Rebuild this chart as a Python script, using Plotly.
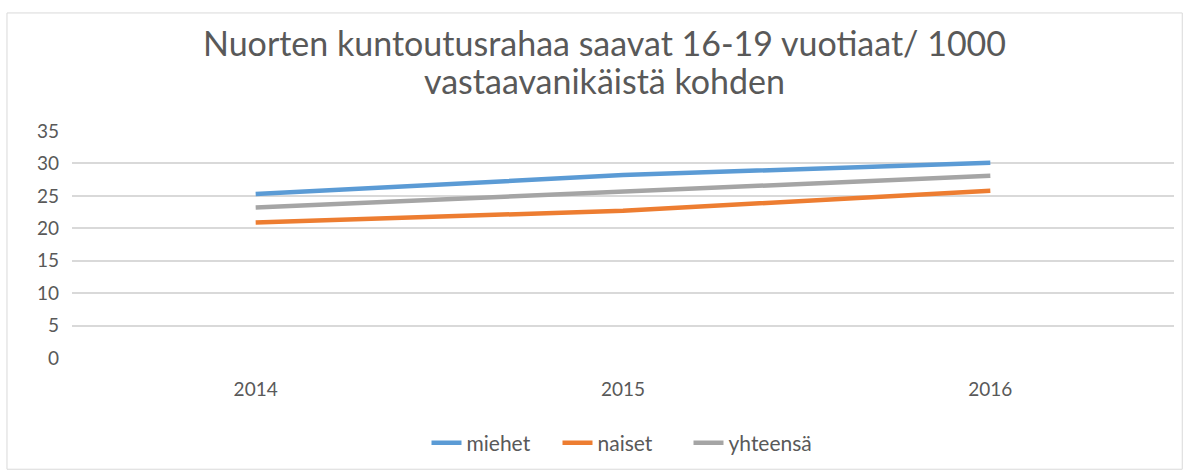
import plotly.graph_objects as go

years = ["2014", "2015", "2016"]
miehet = [25.3, 28.2, 30.1]
naiset = [20.9, 22.7, 25.8]
yhteensa = [23.2, 25.7, 28.1]
title_lines = ["Nuorten kuntoutusrahaa saavat 16-19 vuotiaat/ 1000", "vastaavanikäistä kohden"]

series = [("miehet", miehet, "#5B9BD5"), ("naiset", naiset, "#ED7D31"), ("yhteensä", yhteensa, "#A5A5A5")]

fig = go.Figure()
for name, vals, col in series:
    fig.add_trace(go.Scatter(x=years, y=vals, name=name, mode="lines",
                             line=dict(color=col, width=4.5)))

font_family = "Lato, Open Sans, sans-serif"
annotations = []
for txt, ypix in zip(title_lines, [42, 80]):
    annotations.append(dict(text=txt, xref="paper", yref="paper", x=(604 - 72) / 1102,
                            y=(358 - ypix) / 227, xanchor="center", yanchor="middle",
                            showarrow=False, font=dict(size=34, color="#595959", family=font_family)))

fig.update_layout(
    width=1189, height=475,
    margin=dict(l=72, r=15, t=131, b=117),
    paper_bgcolor="white", plot_bgcolor="white",
    font=dict(family=font_family, color="#595959", size=19),
    annotations=annotations,
    xaxis=dict(type="category", range=[-0.5, 2.5], showgrid=False, showline=False,
               ticks="", tickfont=dict(size=19), zeroline=False, automargin=False,
               ticklabelstandoff=18),
    yaxis=dict(range=[0, 35], dtick=5, showgrid=True, gridcolor="#D9D9D9", gridwidth=1.5,
               zeroline=False, showline=False, ticks="", tickfont=dict(size=19),
               automargin=False, ticklabelstandoff=12),
    legend=dict(orientation="h", x=(623 - 72) / 1102, xanchor="center", y=(358 - 443) / 227,
                yanchor="middle", font=dict(size=21), entrywidth=86, entrywidthmode="pixels"),
    showlegend=True,
    shapes=[dict(type="rect", xref="paper", yref="paper", x0=-0.059, x1=1.0075, y0=-0.49, y1=1.52,
                 line=dict(color="#D9D9D9", width=1), layer="below")],
)
fig.write_html("out.html", post_script="document.body.style.margin='0';",
               config={"displayModeBar": False})
